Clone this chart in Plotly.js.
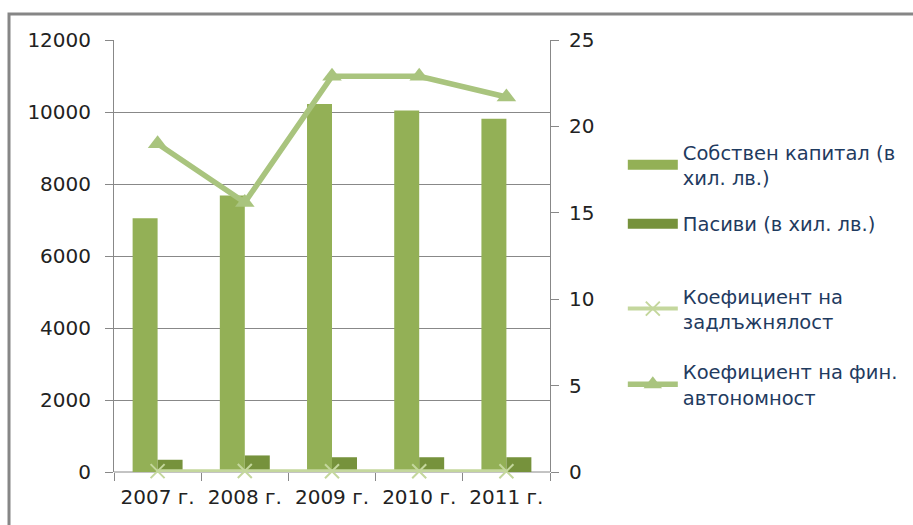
<!DOCTYPE html>
<html>
<head>
<meta charset="utf-8">
<script src="https://cdn.plot.ly/plotly-3.0.1.min.js"></script>
<style>html,body{margin:0;padding:0;background:#fff;}#chart{width:913px;height:525px;}</style>
</head>
<body>
<div id="chart"></div>
<script>
const years = ["2007 г.", "2008 г.", "2009 г.", "2010 г.", "2011 г."];
const equity = [7050, 7680, 10220, 10040, 9810];
const liabilities = [340, 460, 410, 410, 410];
const debtRatio = [0.05, 0.06, 0.04, 0.04, 0.04];
const autonomyRatio = [19.0, 15.6, 22.9, 22.9, 21.7];
const names = [
  "Собствен капитал (в<br>хил. лв.)",
  "Пасиви (в хил. лв.)",
  "Коефициент на<br>задлъжнялост",
  "Коефициент на фин.<br>автономност"
];
const colors = ["#93B056", "#76923C", "#C4D79D", "#A9C47E"];

const data = [
  {type: "bar", x: years, y: equity, name: names[0], marker: {color: colors[0]}, showlegend: false},
  {type: "bar", x: years, y: liabilities, name: names[1], marker: {color: colors[1]}, showlegend: false},
  {type: "scatter", mode: "lines", x: [null], y: [null], name: names[0], line: {color: colors[0], width: 10},
   legend: "legend", legendgroup: "a", hoverinfo: "skip"},
  {type: "scatter", mode: "lines", x: [null], y: [null], name: names[1], line: {color: colors[1], width: 10},
   legend: "legend", legendgroup: "b", hoverinfo: "skip"},
  {type: "scatter", mode: "lines+markers", x: years, y: debtRatio, yaxis: "y2", name: names[2],
   line: {color: colors[2], width: 4}, marker: {symbol: "x-thin", size: 14, line: {color: colors[2], width: 2}},
   legend: "legend2", legendgroup: "c", cliponaxis: false},
  {type: "scatter", mode: "lines+markers", x: years, y: autonomyRatio, yaxis: "y2", name: names[3],
   line: {color: colors[3], width: 5.5}, marker: {symbol: "triangle-up", size: 17, color: colors[3]},
   legend: "legend2", legendgroup: "d", cliponaxis: false}
];

const tickFont = {family: "DejaVu Sans, sans-serif", size: 20, color: "#222"};
const legFont = {family: "DejaVu Sans, sans-serif", size: 19.5, color: "#1F3B5F"};

const layout = {
  width: 913, height: 525,
  margin: {l: 114, r: 363, t: 40, b: 53, autoexpand: false},
  paper_bgcolor: "#fff", plot_bgcolor: "#fff",
  barmode: "group", bargap: 0.427, bargroupgap: 0,
  showlegend: true,
  xaxis: {
    type: "category", tickson: "boundaries", ticks: "outside", ticklen: 8, tickcolor: "#888", tickwidth: 1,
    showline: false, showgrid: false, zeroline: false, tickfont: tickFont, ticklabelstandoff: 11
  },
  yaxis: {
    range: [0, 12000], tickvals: [0, 2000, 4000, 6000, 8000, 10000, 12000], tickformat: "d",
    ticks: "outside", ticklen: 8, tickcolor: "#888", showline: true, linecolor: "#888", linewidth: 1,
    showgrid: true, gridcolor: "#888", gridwidth: 1, zeroline: false, tickfont: tickFont,
    ticklabelstandoff: 10
  },
  yaxis2: {
    overlaying: "y", side: "right", range: [0, 25], tickvals: [0, 5, 10, 15, 20, 25],
    ticks: "outside", ticklen: 8, tickcolor: "#888", showline: true, linecolor: "#888", linewidth: 1,
    showgrid: false, zeroline: false, tickfont: tickFont, ticklabelstandoff: 6
  },
  legend: {x: 1.167, y: 0.785, xanchor: "left", yanchor: "top", font: legFont, bgcolor: "rgba(0,0,0,0)",
    itemwidth: 50, tracegroupgap: 18, traceorder: "grouped"},
  legend2: {x: 1.167, y: 0.452, xanchor: "left", yanchor: "top", font: legFont, bgcolor: "rgba(0,0,0,0)",
    itemwidth: 50, tracegroupgap: 22, traceorder: "grouped"},
  shapes: [
    {type: "rect", xref: "paper", yref: "paper", x0: -0.2408, x1: 1.9, y0: 1.0602, y1: -0.2,
     line: {color: "#868686", width: 3}, fillcolor: "rgba(0,0,0,0)", layer: "below"},
    {type: "line", xref: "paper", yref: "paper", x0: 0, x1: 1, y0: 0, y1: 0, line: {color: "#888", width: 1}, layer: "below"}
  ]
};

Plotly.newPlot("chart", data, layout, {displayModeBar: false, staticPlot: true});
</script>
</body>
</html>
